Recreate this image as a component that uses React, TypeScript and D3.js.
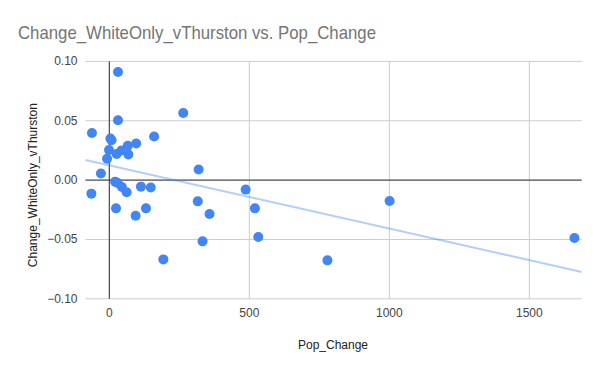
import React from "react";
import * as d3 from "d3";

// Pop_Change (x) and Change_WhiteOnly_vThurston (y)
const popChange = [
  31, 264, 31, -62, 160, 4, 8, 96, 66, -1, 43, 26, 68, -8, 319, -30, 21, 30,
  -64, 113, 148, 45, 62, 487, 24, 131, 316, 358, 520, 94, 193, 333, 532, 1001,
  779, 1661,
];
const changeWhite = [
  0.091, 0.0566, 0.0504, 0.0397, 0.0367, 0.035, 0.0336, 0.0308, 0.029, 0.0254,
  0.0249, 0.022, 0.0215, 0.018, 0.0089, 0.0055, -0.0013, -0.0024, -0.0114,
  -0.0055, -0.0063, -0.0058, -0.0103, -0.008, -0.0238, -0.0238, -0.0179,
  -0.0286, -0.0238, -0.03, -0.0668, -0.0516, -0.048, -0.0176, -0.0676, -0.0488,
];
const xTicks = [0, 500, 1000, 1500];
const yTicks = [-0.1, -0.05, 0, 0.05, 0.1];

const width = 600;
const height = 371;
const font = "Arial, 'Liberation Sans', sans-serif";

const App = () => {
  const x = d3.scaleLinear().domain([-85, 1687]).range([85.5, 581.7]);
  const y = d3.scaleLinear().domain([-0.1, 0.1]).range([298.8, 61.4]);

  const pts = popChange.map((v, i) => [v, changeWhite[i]]);
  // least-squares trendline
  const mx = d3.mean(popChange);
  const my = d3.mean(changeWhite);
  let sxy = 0;
  let sxx = 0;
  pts.forEach(([a, b]) => {
    sxy += (a - mx) * (b - my);
    sxx += (a - mx) * (a - mx);
  });
  const slope = sxy / sxx;
  const icpt = my - slope * mx;
  const [x0, x1] = x.domain();

  return (
    <svg
      width={width}
      height={height}
      style={{ position: "absolute", left: 0, top: 0, background: "#fff" }}
    >
      <rect width={width} height={height} fill="#fff" />
      <text
        x={18}
        y={38.5}
        fontFamily={font}
        fontSize={19}
        fill="#757575"
        textLength={358}
        lengthAdjust="spacingAndGlyphs"
      >
        Change_WhiteOnly_vThurston vs. Pop_Change
      </text>
      {xTicks.map(t => (
        <line key={"gx" + t} x1={x(t)} x2={x(t)} y1={y(0.1)} y2={y(-0.1)} stroke="#cccccc" />
      ))}
      {yTicks.map(t => (
        <line key={"gy" + t} x1={x(x0)} x2={x(x1)} y1={y(t)} y2={y(t)} stroke="#cccccc" />
      ))}
      <line x1={x(0)} x2={x(0)} y1={y(0.1)} y2={y(-0.1)} stroke="#333" />
      <line x1={x(x0)} x2={x(x1)} y1={y(0)} y2={y(0)} stroke="#333" />
      {yTicks.map(t => (
        <text
          key={"ly" + t}
          x={77.5}
          y={y(t) + 4}
          textAnchor="end"
          fontFamily={font}
          fontSize={12}
          fill="#444"
        >
          {d3.format(".2f")(t)}
        </text>
      ))}
      {xTicks.map(t => (
        <text
          key={"lx" + t}
          x={x(t)}
          y={317}
          textAnchor="middle"
          fontFamily={font}
          fontSize={12}
          fill="#444"
        >
          {t}
        </text>
      ))}
      <text x={333} y={349} textAnchor="middle" fontFamily={font} fontSize={12} fill="#222">
        Pop_Change
      </text>
      <text
        transform={`translate(37,${y(0) + 5}) rotate(-90)`}
        textAnchor="middle"
        fontFamily={font}
        fontSize={12}
        fill="#222"
      >
        Change_WhiteOnly_vThurston
      </text>
      <line
        x1={x(x0)}
        x2={x(x1)}
        y1={y(icpt + slope * x0)}
        y2={y(icpt + slope * x1)}
        stroke="#4285f4"
        strokeOpacity={0.4}
        strokeWidth={2}
      />
      {pts.map(([a, b], i) => (
        <circle key={i} cx={x(a)} cy={y(b)} r={5} fill="#4285f4" />
      ))}
    </svg>
  );
};

export default App;
